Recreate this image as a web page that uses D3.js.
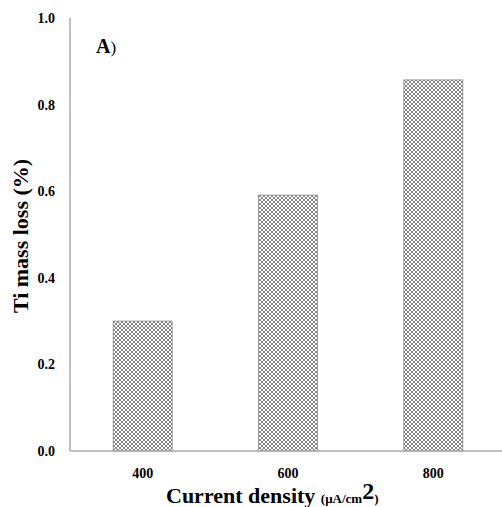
<!DOCTYPE html>
<html><head><meta charset="utf-8">
<script src="https://cdn.jsdelivr.net/npm/d3@7"></script>
<style>body{margin:0;background:#fff}svg{display:block}</style>
</head><body>
<script>
const categories = ["400", "600", "800"];
const massLoss = [0.30, 0.591, 0.857];
const yTicks = [0.0, 0.2, 0.4, 0.6, 0.8, 1.0];

const W = 502, H = 507;
const svg = d3.select("body").append("svg").attr("width", W).attr("height", H);
const font = "'Liberation Serif','Times New Roman',serif";

const defs = svg.append("defs");
const pat = defs.append("pattern").attr("id", "hatch").attr("patternUnits", "userSpaceOnUse")
  .attr("width", 4).attr("height", 4);
pat.append("rect").attr("width", 4).attr("height", 4).attr("fill", "#fff");
pat.append("path").attr("d", "M0,0 L4,4 M4,0 L0,4").attr("stroke", "#777").attr("stroke-width", 0.9);

const x = d3.scaleBand().domain(categories).range([70, 506]).paddingInner(0.594).paddingOuter(0.297);
const y = d3.scaleLinear().domain([0, 1]).range([451, 18]);

svg.selectAll("rect.bar").data(massLoss).enter().append("rect").attr("class", "bar")
  .attr("x", (d, i) => x(categories[i]))
  .attr("y", d => y(d))
  .attr("width", x.bandwidth())
  .attr("height", d => y(0) - y(d))
  .attr("fill", "url(#hatch)")
  .attr("stroke", "#888").attr("stroke-width", 0.8);

// axes
svg.append("line").attr("x1", 70).attr("x2", 70).attr("y1", y(1)).attr("y2", y(0))
  .attr("stroke", "#aaa").attr("stroke-width", 1.5);
svg.append("line").attr("x1", 70).attr("x2", 502).attr("y1", y(0)).attr("y2", y(0))
  .attr("stroke", "#aaa").attr("stroke-width", 1.5);

svg.selectAll("text.yt").data(yTicks).enter().append("text").attr("class", "yt")
  .attr("x", 55).attr("y", d => y(d) + 5)
  .attr("text-anchor", "end").attr("font-family", font).attr("font-weight", "bold")
  .attr("font-size", 14).text(d => d.toFixed(1));

svg.selectAll("text.xt").data(categories).enter().append("text").attr("class", "xt")
  .attr("x", d => x(d) + x.bandwidth() / 2).attr("y", 478)
  .attr("text-anchor", "middle").attr("font-family", font).attr("font-weight", "bold")
  .attr("font-size", 14).text(d => d);

// y title
svg.append("text").attr("transform", "translate(28,236) rotate(-90)")
  .attr("text-anchor", "middle").attr("font-family", font).attr("font-weight", "bold")
  .attr("font-size", 22).text("Ti mass loss (%)");

// x title
const xt = svg.append("text").attr("x", 166).attr("y", 503).attr("text-anchor", "start")
  .attr("font-family", font).attr("font-weight", "bold");
xt.append("tspan").attr("font-size", 22).text("Current density ");
xt.append("tspan").attr("font-size", 13).text("(μA/cm");
xt.append("tspan").attr("font-size", 24).attr("dy", -4).text("2");
xt.append("tspan").attr("font-size", 13).attr("dy", 4).text(")");

// panel label
const lab = svg.append("text").attr("x", 96).attr("y", 53).attr("font-family", font);
lab.append("tspan").attr("font-weight", "bold").attr("font-size", 20).text("A");
lab.append("tspan").attr("font-size", 17).text(")");
</script>
</body></html>
